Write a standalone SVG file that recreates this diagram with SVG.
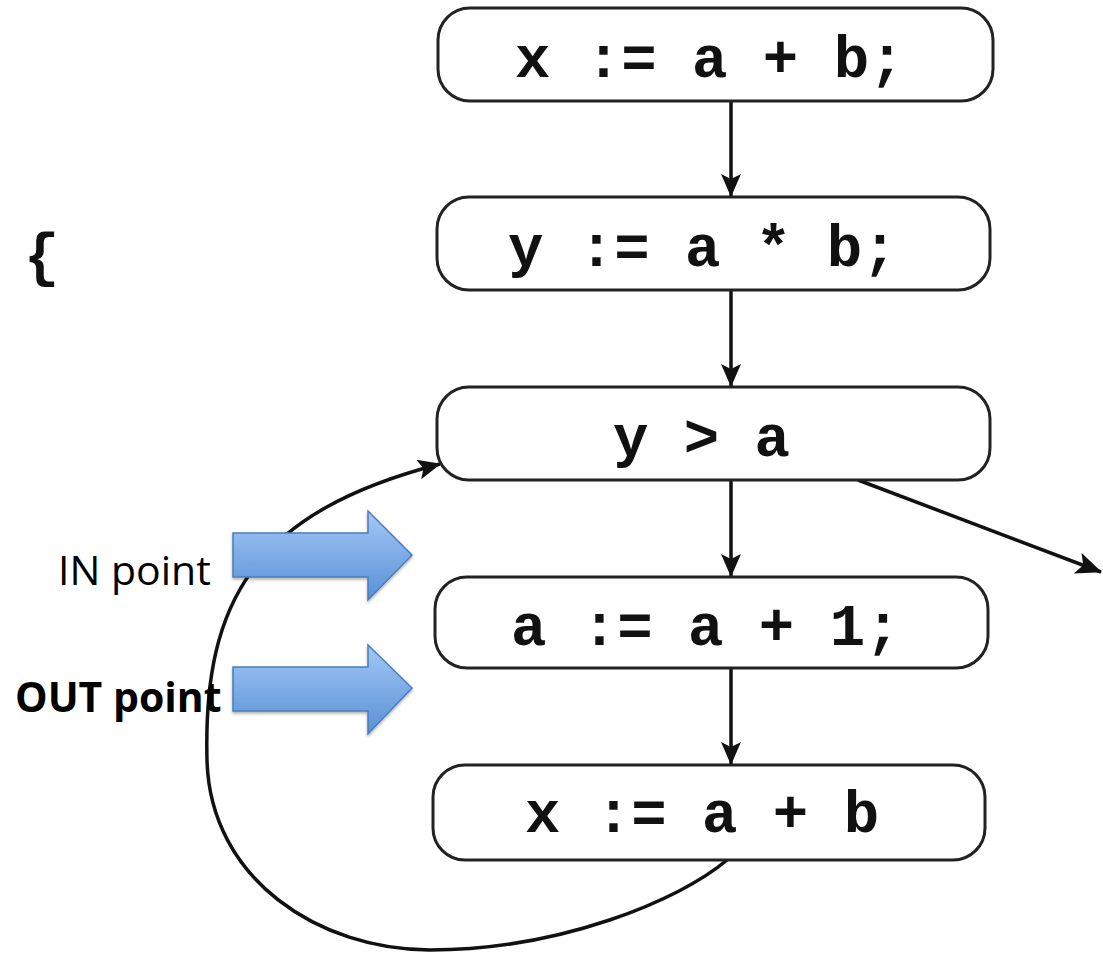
<svg xmlns="http://www.w3.org/2000/svg" width="1103" height="954" viewBox="0 0 1103 954">
  <defs>
    <style>
      .box { fill: #ffffff; stroke: #222222; stroke-width: 3; }
      .code { font-family: "Liberation Mono", "Courier New", monospace; font-size: 59px; font-weight: bold; fill: #111111; }
      .conn { fill: none; stroke: #111111; stroke-width: 3.5; }
      .lbl { font-family: "Open Sans", "Noto Sans", sans-serif; font-size: 41px; fill: #000000; }
      .blue { fill: url(#blueGrad); stroke: #4a7ebb; stroke-width: 1.5; filter: url(#shadow); }
    </style>
    <linearGradient id="blueGrad" x1="0" y1="0" x2="0" y2="1">
      <stop offset="0" stop-color="#a3c8f6"/>
      <stop offset="1" stop-color="#5990d6"/>
    </linearGradient>
    <filter id="shadow" x="-10%" y="-10%" width="130%" height="140%">
      <feDropShadow dx="0" dy="2" stdDeviation="1.5" flood-color="#000000" flood-opacity="0.3"/>
    </filter>
    <marker id="arrow" markerUnits="userSpaceOnUse" markerWidth="26" markerHeight="22" refX="22" refY="10" orient="auto">
      <path d="M0,0 L23,10 L0,20 L5,10 z" fill="#111111"/>
    </marker>
    <marker id="arrowBig" markerUnits="userSpaceOnUse" markerWidth="30" markerHeight="24" refX="25" refY="11" orient="auto">
      <path d="M0,0 L26,11 L0,22 L6,11 z" fill="#111111"/>
    </marker>
  </defs>

  <rect width="1103" height="954" fill="#ffffff"/>

  <g id="connectors">
    <line class="conn" x1="731" y1="101" x2="731" y2="196" marker-end="url(#arrow)"/>
    <line class="conn" x1="731" y1="290" x2="731" y2="386" marker-end="url(#arrow)"/>
    <line class="conn" x1="731" y1="480" x2="731" y2="576" marker-end="url(#arrow)"/>
    <line class="conn" x1="731" y1="668" x2="731" y2="764" marker-end="url(#arrow)"/>
    <line class="conn" stroke-width="4" x1="858" y1="480" x2="1101" y2="572" marker-end="url(#arrowBig)"/>
    <path class="conn" stroke-width="4.5" d="M727,860 C680,900 560,950 430,950 C320,950 210,880 207,760 C203,600 255,512 440,464" marker-end="url(#arrow)"/>
  </g>

  <g id="node1">
    <rect class="box" x="438" y="8" width="555" height="93" rx="32" ry="32"/>
    <text class="code" x="515" y="77">x := a + b;</text>
  </g>
  <g id="node2">
    <rect class="box" x="437" y="197" width="553" height="93" rx="32" ry="32"/>
    <text class="code" x="508" y="266">y := a * b;</text>
  </g>
  <g id="node3">
    <rect class="box" x="437" y="387" width="553" height="93" rx="32" ry="32"/>
    <text class="code" x="613" y="456">y &gt; a</text>
  </g>
  <g id="node4">
    <rect class="box" x="435" y="577" width="553" height="91" rx="32" ry="32"/>
    <text class="code" x="511" y="645">a := a + 1;</text>
  </g>
  <g id="node5">
    <rect class="box" x="433" y="765" width="552" height="95" rx="32" ry="32"/>
    <text class="code" x="525" y="832">x := a + b</text>
  </g>

  <g id="brace">
    <text class="code" x="24" y="275">{</text>
  </g>

  <g id="in-point">
    <polygon class="blue" points="233,533 368,533 368,511 412,555 368,600 368,577 233,577"/>
    <text class="lbl" x="58" y="585">IN point</text>
  </g>
  <g id="out-point">
    <polygon class="blue" points="233,667 368,667 368,645 412,688 368,734 368,711 233,711"/>
    <text class="lbl" x="15" y="712" font-weight="bold">OUT point</text>
  </g>
</svg>
